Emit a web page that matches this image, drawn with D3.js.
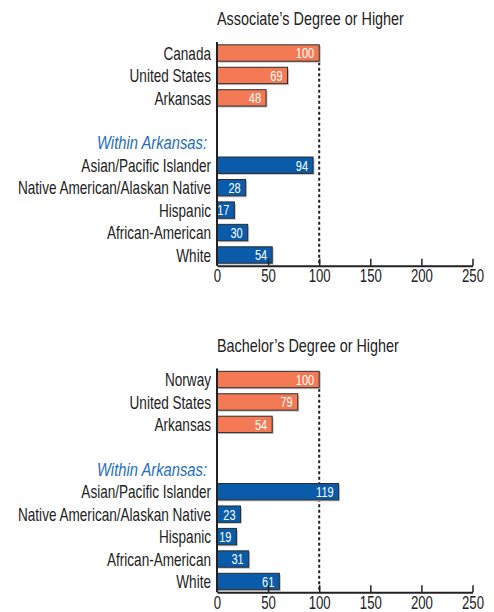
<!DOCTYPE html>
<html>
<head>
<meta charset="utf-8">
<script src="https://cdn.jsdelivr.net/npm/d3@7"></script>
<style>
  body { margin: 0; background: #fff; }
  svg { display: block; }
</style>
</head>
<body>
<div id="vis"></div>
<script>
// datos
const assocTitulo = "Associate\u2019s Degree or Higher";
const bachTitulo = "Bachelor\u2019s Degree or Higher";
const assocPaises = ["Canada", "United States", "Arkansas"];
const assocPaisesValores = [100, 69, 48];
const bachPaises = ["Norway", "United States", "Arkansas"];
const bachPaisesValores = [100, 79, 54];
const grupos = ["Asian/Pacific Islander", "Native American/Alaskan Native", "Hispanic", "African-American", "White"];
const assocGruposValores = [94, 28, 17, 30, 54];
const bachGruposValores = [119, 23, 19, 31, 61];
const ticksX = [0, 50, 100, 150, 200, 250];
const subtitulo = "Within Arkansas:";

const WIDTH = 494;
const HEIGHT = 612;
const FUENTE = "'Liberation Sans', Arial, sans-serif";
const NARANJA = "#f47a55";
const AZUL = "#0a5baa";

const SVG = d3.select("#vis").append("svg")
    .attr("width", WIDTH)
    .attr("height", HEIGHT);

const escalaX = d3.scaleLinear().domain([0, 250]).range([217, 472.5]);

// factor de compresion para imitar la fuente condensada
function anchoNatural(texto, size, estilo) {
    const t = SVG.append("text")
        .attr("font-family", FUENTE)
        .attr("font-size", size)
        .attr("font-style", estilo || "normal")
        .text(texto);
    const w = t.node().getComputedTextLength();
    t.remove();
    return w;
}
const COMPRESION = 193 / anchoNatural(grupos[1], "18.5px");
const COMPRESION_TITULO = 187 / anchoNatural(assocTitulo, "17.5px");
const COMPRESION_SUB = 110 / anchoNatural(subtitulo, "18.5px", "italic");

dibujarPanel(0, assocTitulo, assocPaises, assocPaisesValores, assocGruposValores);
dibujarPanel(326.5, bachTitulo, bachPaises, bachPaisesValores, bachGruposValores);

// comprimir todos los textos en horizontal
SVG.selectAll("text").each(function () {
    const sel = d3.select(this);
    let k = COMPRESION;
    if (sel.classed("titulo")) k = COMPRESION_TITULO;
    if (sel.classed("sub")) k = COMPRESION_SUB;
    const x = +sel.attr("x") || 0;
    sel.attr("x", x / k)
        .attr("transform", `scale(${k},1)`);
});

function dibujarPanel(offsetY, titulo, paises, paisesValores, gruposValores) {
    const g = SVG.append("g").attr("transform", `translate(0,${offsetY})`);

    // filas: 3 paises, vacio, subtitulo, 5 grupos
    const filas = [...paises, "_vacio", "_sub", ...grupos];
    const datos = paises.map((p, i) => ({ nombre: p, valor: paisesValores[i], color: NARANJA }))
        .concat(grupos.map((p, i) => ({ nombre: p, valor: gruposValores[i], color: AZUL })));

    const escalaY = d3.scaleBand()
        .domain(filas)
        .range([41.8, 266.2])
        .paddingInner(0.27)
        .paddingOuter(0.135);

    const ejeY0 = 265.7;

    g.append("text")
        .attr("class", "titulo")
        .attr("x", escalaX(0))
        .attr("y", 25.5)
        .attr("font-family", FUENTE)
        .attr("font-size", "17.5px")
        .attr("fill", "#222")
        .text(titulo);

    // linea punteada en 100
    g.append("line")
        .attr("x1", escalaX(100))
        .attr("x2", escalaX(100))
        .attr("y1", escalaY.range()[0] + 4)
        .attr("y2", ejeY0)
        .attr("stroke", "#222")
        .attr("stroke-width", 2)
        .attr("stroke-dasharray", "3,2.5");

    // sombras
    g.selectAll(".sombra")
        .data(datos)
        .enter()
        .append("rect")
        .attr("class", "sombra")
        .attr("x", escalaX(0) + 1.5)
        .attr("y", d => escalaY(d.nombre) + 1.5)
        .attr("width", d => escalaX(d.valor) - escalaX(0))
        .attr("height", escalaY.bandwidth())
        .attr("fill", "#c4c4c4");

    g.selectAll(".barra")
        .data(datos)
        .enter()
        .append("rect")
        .attr("class", "barra")
        .attr("x", escalaX(0))
        .attr("y", d => escalaY(d.nombre))
        .attr("width", d => escalaX(d.valor) - escalaX(0))
        .attr("height", escalaY.bandwidth())
        .attr("fill", d => d.color)
        .attr("stroke", "#2b2b2b")
        .attr("stroke-width", 1);

    // valores dentro de las barras
    g.selectAll(".valor")
        .data(datos)
        .enter()
        .append("text")
        .attr("class", "valor")
        .attr("x", d => escalaX(d.valor) - 5)
        .attr("y", d => escalaY(d.nombre) + escalaY.bandwidth() / 2)
        .attr("dy", "0.36em")
        .attr("text-anchor", "end")
        .attr("font-family", FUENTE)
        .attr("font-size", "15px")
        .attr("fill", "white")
        .text(d => d.valor);

    // etiquetas de categoria
    g.selectAll(".etiqueta")
        .data(datos)
        .enter()
        .append("text")
        .attr("class", "etiqueta")
        .attr("x", 211)
        .attr("y", d => escalaY(d.nombre) + escalaY.bandwidth() / 2)
        .attr("dy", "0.36em")
        .attr("text-anchor", "end")
        .attr("font-family", FUENTE)
        .attr("font-size", "18.5px")
        .attr("fill", "#222")
        .text(d => d.nombre);

    g.append("text")
        .attr("class", "sub")
        .attr("x", 207)
        .attr("y", escalaY("_sub") + escalaY.bandwidth() / 2)
        .attr("dy", "0.36em")
        .attr("text-anchor", "end")
        .attr("font-family", FUENTE)
        .attr("font-size", "18.5px")
        .attr("font-style", "italic")
        .attr("fill", "#1e6ec0")
        .text(subtitulo);

    // eje vertical
    g.append("line")
        .attr("x1", escalaX(0))
        .attr("x2", escalaX(0))
        .attr("y1", 42)
        .attr("y2", ejeY0)
        .attr("stroke", "#222")
        .attr("stroke-width", 2);

    // eje x
    const ejeX = g.append("g")
        .attr("transform", `translate(0,${ejeY0})`)
        .call(d3.axisBottom(escalaX)
            .tickValues(ticksX)
            .tickSizeInner(-7)
            .tickSizeOuter(0)
            .tickPadding(4));

    ejeX.select(".domain").attr("stroke", "#222").attr("stroke-width", 2);
    ejeX.selectAll(".tick line").attr("stroke", "#222").attr("stroke-width", 1.5);
    ejeX.selectAll(".tick text")
        .attr("font-family", FUENTE)
        .attr("font-size", "18px")
        .attr("fill", "#222");
}
</script>
</body>
</html>
